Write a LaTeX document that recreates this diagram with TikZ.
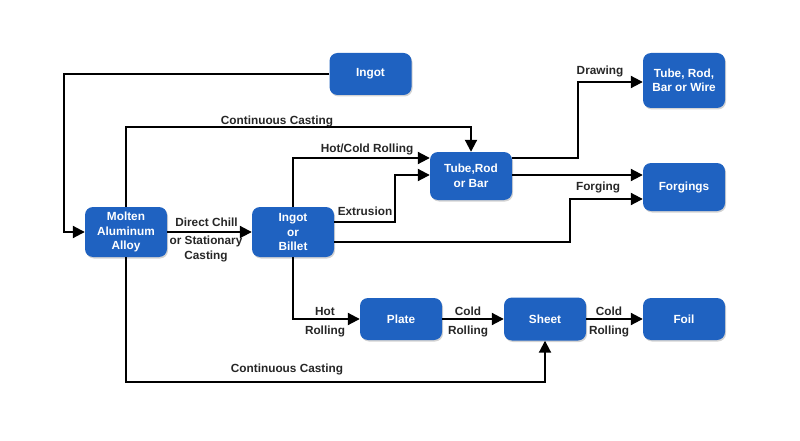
\documentclass[tikz,border=0pt]{standalone}
\usepackage{fontspec}
\setmainfont{Liberation Sans}
\usetikzlibrary{arrows.meta,shadows}
\definecolor{boxblue}{HTML}{1F62C1}
\definecolor{lbl}{HTML}{262626}
\begin{document}
\begin{tikzpicture}[x=1pt,y=-1pt,
  box/.style={draw=none,fill=boxblue,rounded corners=8pt,minimum width=82pt,inner sep=0pt,
    text=white,align=center,font=\fontsize{11.8}{14.5}\selectfont\bfseries,
    drop shadow={opacity=0.35,shadow xshift=1pt,shadow yshift=-1.5pt}},
  arr/.style={line width=2pt,-{Triangle[length=12pt,width=12pt]}},
  lab/.style={text=lbl,inner sep=0pt,align=center,font=\fontsize{11.8}{14.5}\selectfont\bfseries}]
\useasboundingbox (0,0) rectangle (800,441);
% nodes
\node[box,minimum height=50pt] (molten) at (126,232) {Molten\\Aluminum\\Alloy};
\node[box,minimum height=50pt] (billet) at (293,232) {Ingot\\or\\Billet};
\node[box,minimum height=42pt] (ingot) at (370.5,74) {Ingot};
\node[box,minimum height=48pt] (tube) at (471,176) {Tube,Rod\\or Bar};
\node[box,minimum height=55pt] (trbw) at (684,80.5) {Tube, Rod,\\Bar or Wire};
\node[box,minimum height=48pt] (forg) at (684,187) {Forgings};
\node[box,minimum height=42pt] (plate) at (401,319) {Plate};
\node[box,minimum height=43pt] (sheet) at (545,319) {Sheet};
\node[box,minimum height=42pt] (foil) at (684,319) {Foil};
\coordinate (top1) at (0,127);
\coordinate (bot1) at (0,382);
% connectors
\draw[arr] (ingot.west) -- ++(-265.5,0) |- (molten.west);
\draw[arr] (molten.north) -- (molten.north |- top1) -| (tube.north);
\draw[arr] (molten.east) -- (billet.west);
\draw[arr] (billet.north) |- ([yshift=18pt]tube.west);
\draw[arr] ([yshift=10pt]billet.east) -- ++(61,0) |- ([yshift=1pt]tube.west);
\draw[arr] ([yshift=-10pt]billet.east) -- ++(236,0) |- ([yshift=-12pt]forg.west);
\draw[arr] ([yshift=18pt]tube.east) -- ++(66,0) |- ([yshift=-1.5pt]trbw.west);
\draw[arr] ([yshift=1pt]tube.east) -- ([yshift=12pt]forg.west);
\draw[arr] (billet.south) |- (plate.west);
\draw[arr] (plate.east) -- (sheet.west);
\draw[arr] (sheet.east) -- (foil.west);
\draw[arr] (molten.south) -- (molten.south |- bot1) -| (sheet.south);
% labels
\node[lab] (l1) at (277,121) {Continuous Casting};
\node[lab] (l2) at (367,149.5) {Hot/Cold Rolling};
\node[lab] (l3) at (365,211) {Extrusion};
\node[lab] (l4) at (206.5,222.5) {Direct Chill};
\node[lab] (l5) at (206,249) {or Stationary\\Casting};
\node[lab] (l6) at (600,71) {Drawing};
\node[lab] (l7) at (598,187) {Forging};
\node[lab] (l8) at (325,311) {Hot};
\node[lab] (l9) at (325,331) {Rolling};
\node[lab] (l10) at (468,311) {Cold};
\node[lab] (l11) at (468,331) {Rolling};
\node[lab] (l12) at (609,311) {Cold};
\node[lab] (l13) at (609,331) {Rolling};
\node[lab] (l14) at (287,369) {Continuous Casting};
\end{tikzpicture}
\end{document}
